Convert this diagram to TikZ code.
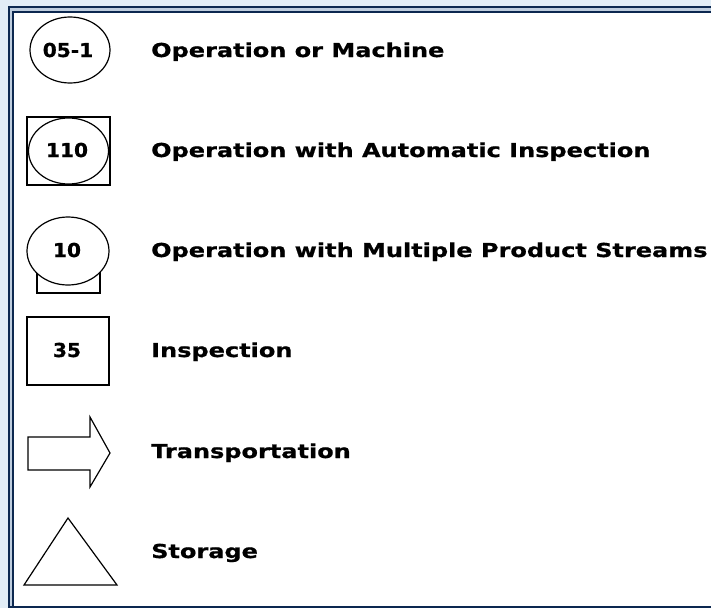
\documentclass[tikz,border=0pt]{standalone}
\usepackage{fontspec}
\newfontfamily\labfont[FakeStretch=1.25,FakeBold=0.8]{DejaVu Sans Bold}
\newfontfamily\numfont[FakeStretch=1.05,FakeBold=0.8]{DejaVu Sans Bold}
\definecolor{bgblue}{RGB}{226,237,246}
\definecolor{navy}{RGB}{12,40,80}
\definecolor{midband}{RGB}{190,205,222}
\tikzset{
  shp/.style={draw=black, line width=1.2pt},
  lab/.style={anchor=base west, inner sep=0pt, font=\labfont\fontsize{19.2}{22}\selectfont},
  num/.style={anchor=base, inner sep=0pt, font=\numfont\fontsize{19.2}{22}\selectfont}
}
\begin{document}
\begin{tikzpicture}[x=1pt,y=-1pt]
\useasboundingbox (0,0) rectangle (711,608);
% background and frame
\fill[bgblue] (0,0) rectangle (711,608);
\fill[midband] (9,7) rectangle (711,608);
\fill[white] (13,12) rectangle (711,607);
\draw[navy, line width=2.2pt] (711,7) -- (9,7) -- (9,608);
\draw[navy, line width=2pt] (711,12) -- (13,12) -- (13,607) -- (711,607);
\fill[navy] (9,605.5) rectangle (711,608);

% row 1: operation or machine
\draw[shp] (70,50) ellipse [x radius=40, y radius=33];
\node[num] (n1) at (68,57) {05-1};
\node[lab] (l1) at (151,57) {Operation or Machine};

% row 2: operation with automatic inspection
\draw[shp] (27,117) rectangle (110,185);
\draw[shp] (68.5,151) ellipse [x radius=40, y radius=33];
\node[num] (n2) at (67,157) {110};
\node[lab] (l2) at (151,157) {Operation with Automatic Inspection};

% row 3: multiple product streams
\draw[shp] (37,251) rectangle (100,293);
\filldraw[shp, fill=white] (68,251) ellipse [x radius=41, y radius=34];
\node[num] (n3) at (67,257) {10};
\node[lab] (l3) at (151,257) {Operation with Multiple Product Streams};

% row 4: inspection
\draw[shp] (27,317) rectangle (109,385);
\node[num] (n4) at (67,357) {35};
\node[lab] (l4) at (151,357) {Inspection};

% row 5: transportation
\draw[shp, line join=miter] (28,437) -- (90,437) -- (90,417) -- (110,453) -- (90,487) -- (90,470) -- (28,470) -- cycle;
\node[lab] (l5) at (151,458) {Transportation};

% row 6: storage
\draw[shp, line join=miter] (24,585) -- (68,518) -- (117,585) -- cycle;
\node[lab] (l6) at (151,558) {Storage};
\end{tikzpicture}
\end{document}
